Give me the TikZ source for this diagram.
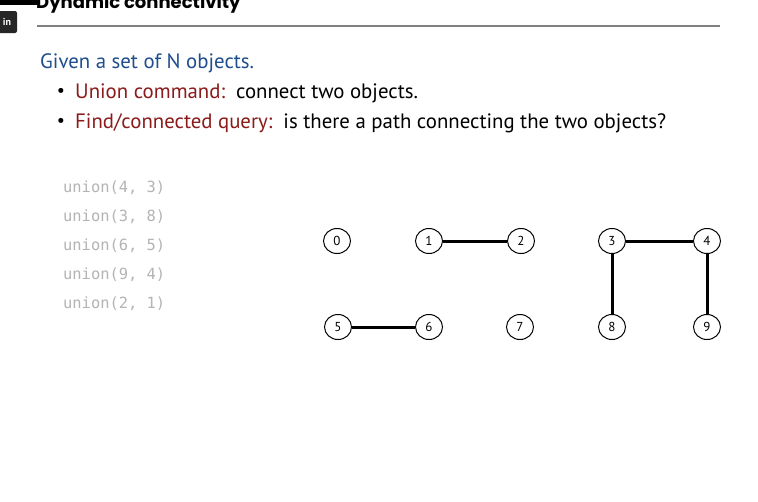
\documentclass[tikz,border=0pt]{standalone}
\usepackage{fontspec}
\usetikzlibrary{shapes.geometric}
\setmainfont{PT Sans}
\newfontfamily\titlefont{Poppins}
\setmonofont{DejaVu Sans Mono}
\definecolor{tblue}{HTML}{1F4E8C}
\definecolor{tred}{HTML}{8B1A1A}
\definecolor{cgrey}{HTML}{B4B4B4}
\begin{document}
\begin{tikzpicture}[x=1pt,y=-1pt,
  obj/.style={ellipse,draw,line width=1pt,minimum width=27pt,minimum height=25pt,inner sep=0pt,font=\fontsize{13}{13}\selectfont},
  link/.style={line width=3pt},
  cmd/.style={anchor=west,inner sep=0pt,text=cgrey,font=\ttfamily\fontsize{15.4}{15.4}\selectfont},
  body/.style={anchor=base west,inner sep=0pt,font=\fontsize{20.8}{20.8}\selectfont}]
\useasboundingbox (0,0) rectangle (758,501);
\clip (0,0) rectangle (758,501);
\fill[white] (0,0) rectangle (758,501);
% top-left artifacts
\fill[black] (0,-2) rectangle (40,5);
\fill[black!85,rounded corners=2pt] (-4,11) rectangle (17,33);
\node[text=white,font=\bfseries\fontsize{10}{10}\selectfont,inner sep=0pt] (in) at (7,22) {in};
% title
\node[anchor=base west,inner sep=0pt,font=\titlefont\bfseries\fontsize{18}{18}\selectfont] (title) at (36,8) {Dynamic connectivity};
\draw[gray,line width=1.2pt] (37,26) -- (720,26);
% text
\node[body,text=tblue] (given) at (40,68) {Given a set of N objects.};
\node[anchor=center,inner sep=0pt,font=\fontsize{18}{18}\selectfont] (b1) at (61,92) {•};
\node[body] (l1) at (75,98) {\textcolor{tred}{Union command:}\ \ connect two objects.};
\node[anchor=center,inner sep=0pt,font=\fontsize{18}{18}\selectfont] (b2) at (61,122) {•};
\node[body] (l2) at (75,128) {\textcolor{tred}{Find/connected query:}\ \ is there a path connecting the two objects?};
% commands
\node[cmd] (c1) at (63,188) {union(4, 3)};
\node[cmd] (c2) at (63,217) {union(3, 8)};
\node[cmd] (c3) at (63,246) {union(6, 5)};
\node[cmd] (c4) at (63,275) {union(9, 4)};
\node[cmd] (c5) at (63,304) {union(2, 1)};
% objects
\node[obj] (n0) at (337,241) {0};
\node[obj] (n1) at (429,241) {1};
\node[obj] (n2) at (521,241) {2};
\node[obj] (n3) at (612,241) {3};
\node[obj] (n4) at (707,241) {4};
\node[obj] (n5) at (338,327) {5};
\node[obj] (n6) at (429,327) {6};
\node[obj] (n7) at (520,327) {7};
\node[obj] (n8) at (612,327) {8};
\node[obj] (n9) at (707,327) {9};
\draw[link] (n1) -- (n2);
\draw[link] (n3) -- (n4);
\draw[link] (n3) -- (n8);
\draw[link] (n4) -- (n9);
\draw[link] (n5) -- (n6);
\end{tikzpicture}
\end{document}
